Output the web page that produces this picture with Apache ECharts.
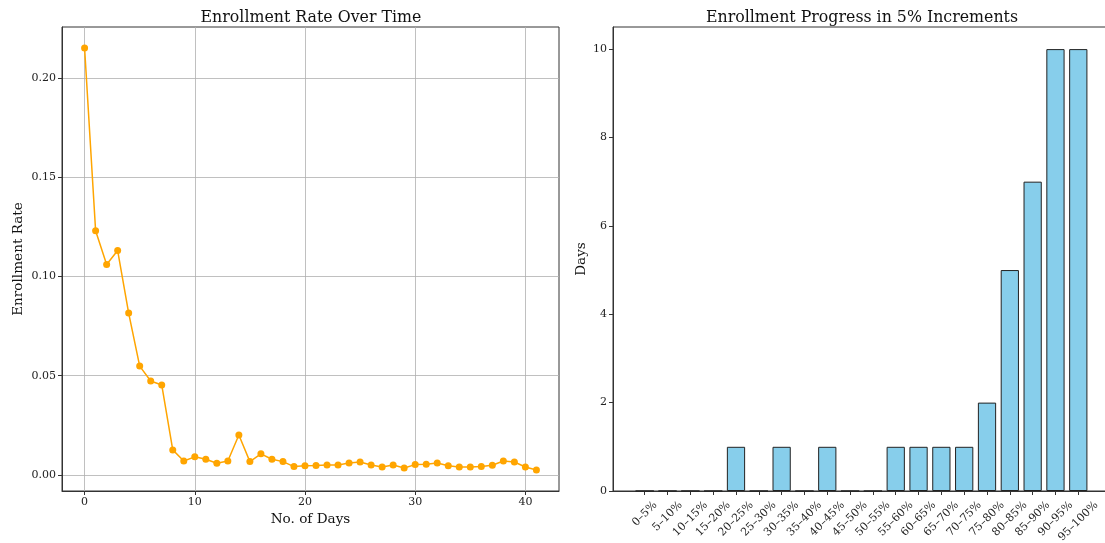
<!DOCTYPE html>
<html>
<head>
<meta charset="utf-8">
<script src="https://cdn.jsdelivr.net/npm/echarts@6/dist/echarts.min.js"></script>
<style>
html,body{margin:0;padding:0;background:#fff;overflow:hidden;}
#chart{width:1105px;height:543px;}
</style>
</head>
<body>
<div id="chart"></div>
<script>
// ---- Data ----
const days = [0,1,2,3,4,5,6,7,8,9,10,11,12,13,14,15,16,17,18,19,20,21,22,23,24,25,26,27,28,29,30,31,32,33,34,35,36,37,38,39,40,41];
const enrollmentRate = [0.215,0.123,0.106,0.113,0.0815,0.0548,0.0473,0.0453,0.0126,0.0070,0.0091,0.0079,0.0059,0.0070,0.0201,0.0067,0.0106,0.0079,0.0067,0.0042,0.0046,0.0047,0.0050,0.0050,0.0060,0.0065,0.0050,0.0040,0.0050,0.0035,0.0052,0.0054,0.0060,0.0046,0.0040,0.0040,0.0043,0.0049,0.0070,0.0065,0.0040,0.0025];
const progressBins = ['0–5%','5–10%','10–15%','15–20%','20–25%','25–30%','30–35%','35–40%','40–45%','45–50%','50–55%','55–60%','60–65%','65–70%','70–75%','75–80%','80–85%','85–90%','90–95%','95–100%'];
const daysPerBin = [0,0,0,0,1,0,1,0,1,0,0,1,1,1,1,2,5,7,10,10];
const leftXTicks = [0,10,20,30,40];
const leftYTicks = [0,0.05,0.10,0.15,0.20];
const rightYTicks = [0,2,4,6,8,10];

const FONT = 'DejaVu Serif';
const TICK_FS = 11;
const chart = echarts.init(document.getElementById('chart'), null, {renderer:'canvas'});

const lineData = days.map((d,i)=>[d, enrollmentRate[i]]);
const barData = progressBins.map((b,i)=>[i, daysPerBin[i]]);
const binIdx = progressBins.map((b,i)=>i);

// Emulate matplotlib rotated (45°, ha=center) labels: shift each label's centre
// down by an amount depending on its measured width, via rich-text padding.
const cv = document.createElement('canvas').getContext('2d');
cv.font = TICK_FS + 'px "' + FONT + '"';
const rich = {};
progressBins.forEach((b,i)=>{
  const L = cv.measureText(b).width;
  const p = (L + 15) / 2;
  rich['b' + i] = {fontFamily: FONT, fontSize: TICK_FS, color: '#222', padding: [p, p, 0, 0]};
});

const tickLabel = {fontFamily: FONT, fontSize: TICK_FS, color: '#222'};
const titleStyle = {fontFamily: FONT, fontSize: 15.8, fontWeight: 'normal', color: '#111'};
const nameStyle = {fontFamily: FONT, fontSize: 13.6, color: '#111'};
const spine = {show: true, onZero: false, lineStyle: {color: '#333', width: 1}};

chart.setOption({
  animation: false,
  textStyle: {fontFamily: FONT},
  title: [
    {text: 'Enrollment Rate Over Time', left: 306, top: 5, textAlign: 'center', textStyle: titleStyle},
    {text: 'Enrollment Progress in 5% Increments', left: 857, top: 5, textAlign: 'center', textStyle: titleStyle}
  ],
  grid: [
    {left: 62, top: 27, width: 497, height: 464, show: true, borderColor: '#333', borderWidth: 1, backgroundColor: 'transparent', outerBoundsMode: 'none', containLabel: false},
    {left: 613, top: 27, width: 497, height: 464, show: true, borderColor: '#333', borderWidth: 1, backgroundColor: 'transparent', outerBoundsMode: 'none', containLabel: false}
  ],
  xAxis: [
    {type: 'value', gridIndex: 0, min: -2.05, max: 43.05,
     name: 'No. of Days', nameLocation: 'middle', nameGap: 21, nameTextStyle: nameStyle,
     axisLine: spine,
     axisTick: {show: true, length: 4, customValues: leftXTicks, lineStyle: {color: '#333'}},
     axisLabel: Object.assign({margin: 6, customValues: leftXTicks}, tickLabel),
     splitLine: {show: true, lineStyle: {color: '#b0b0b0', width: 0.8}}
    },
    {type: 'value', gridIndex: 1, min: -1.39, max: 20.39,
     axisLine: spine,
     axisTick: {show: true, length: 4, customValues: binIdx, lineStyle: {color: '#333'}},
     axisLabel: Object.assign({margin: 7, rotate: 45, align: 'center', verticalAlign: 'middle',
       customValues: binIdx, hideOverlap: false, rich: rich,
       formatter: v => { const i = Math.round(v); return progressBins[i] ? '{b' + i + '|' + progressBins[i] + '}' : ''; }}, tickLabel),
     splitLine: {show: false}
    }
  ],
  yAxis: [
    {type: 'value', gridIndex: 0, min: -0.0081, max: 0.2256,
     name: 'Enrollment Rate', nameLocation: 'middle', nameGap: 37, nameTextStyle: nameStyle,
     axisLine: spine,
     axisTick: {show: true, length: 4, customValues: leftYTicks, lineStyle: {color: '#333'}},
     axisLabel: Object.assign({margin: 6, customValues: leftYTicks, formatter: v => v.toFixed(2)}, tickLabel),
     splitLine: {show: true, lineStyle: {color: '#b0b0b0', width: 0.8}}
    },
    {type: 'value', gridIndex: 1, min: 0, max: 10.5,
     name: 'Days', nameLocation: 'middle', nameGap: 25, nameTextStyle: nameStyle,
     axisLine: spine,
     axisTick: {show: true, length: 4, customValues: rightYTicks, lineStyle: {color: '#333'}},
     axisLabel: Object.assign({margin: 6, customValues: rightYTicks}, tickLabel),
     splitLine: {show: false}
    }
  ],
  series: [
    {type: 'line', xAxisIndex: 0, yAxisIndex: 0, data: lineData,
     symbol: 'circle', symbolSize: 7, showAllSymbol: true, clip: false,
     lineStyle: {color: '#FFA500', width: 1.5},
     itemStyle: {color: '#FFA500', borderWidth: 0}
    },
    {type: 'bar', xAxisIndex: 1, yAxisIndex: 1, data: barData, barWidth: '80%',
     itemStyle: {color: '#87CEEB', borderColor: '#222', borderWidth: 1}
    }
  ]
});
</script>
</body>
</html>
